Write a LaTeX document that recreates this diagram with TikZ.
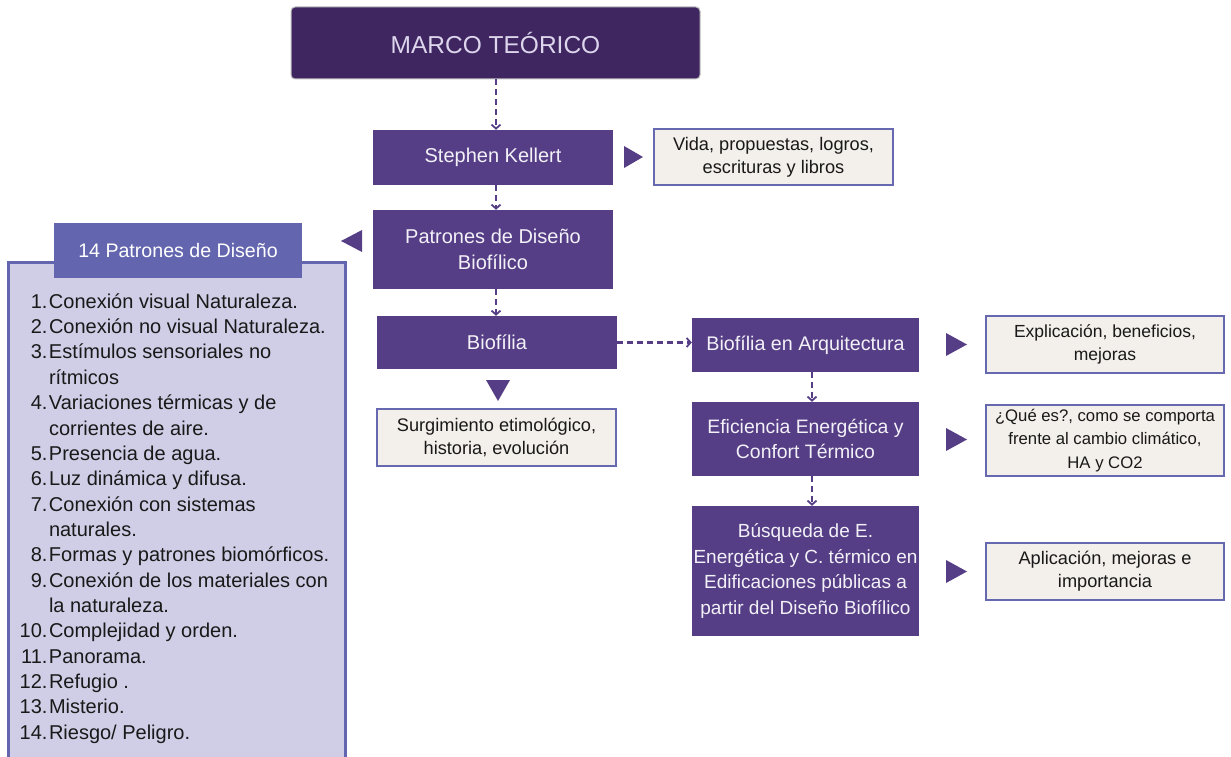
\documentclass[tikz,border=0pt]{standalone}
\usepackage{fontspec}
\setmainfont{Liberation Sans}
\usetikzlibrary{arrows.meta}
\definecolor{dpurple}{HTML}{3F2661}
\definecolor{mpurple}{HTML}{553E85}
\definecolor{hblue}{HTML}{6366AE}
\definecolor{lfill}{HTML}{D0CDE6}
\definecolor{cream}{HTML}{F3EFEA}
\definecolor{bborder}{HTML}{6668B0}
\definecolor{lavtext}{HTML}{DCD5EC}
\definecolor{ptext}{HTML}{F3F1F8}
\newcommand\setfs[2]{\fontsize{#1}{#2}\selectfont}
\begin{document}
\begin{tikzpicture}[x=1pt,y=-1pt,
  pbox/.style={fill=mpurple, text=ptext, align=center, inner sep=0pt, font=\setfs{20}{25.8}},
  lbox/.style={fill=cream, draw=bborder, line width=2pt, text=black!90, align=center, inner sep=0pt, font=\setfs{18.2}{23.2}},
  dashconn/.style={draw=mpurple, line width=2.4pt, dash pattern=on 6pt off 4pt, -{Straight Barb[length=4pt,width=9pt,line width=1.8pt]}},
  tri/.style={fill=mpurple}]
\useasboundingbox (0,0) rectangle (1231,757);
% top
\node[fill=dpurple, draw=black!25, line width=1pt, rounded corners=4pt, minimum width=409pt, minimum height=72pt, text=lavtext, font=\setfs{24.5}{28}, inner sep=0pt] (marco) at (495.5,43) {MARCO TEÓRICO};
\node[pbox, minimum width=240pt, minimum height=55pt] (kellert) at (493,157.5) {Stephen Kellert};
\node[lbox, minimum width=239pt, minimum height=56pt] (vida) at (773.5,157) {Vida, propuestas, logros,\\escrituras y libros};
\node[pbox, minimum width=240pt, minimum height=79pt] (patrones) at (493,249.5) {Patrones de Diseño\\Biofílico};
\node[pbox, minimum width=240pt, minimum height=53pt] (biofilia) at (497,342.5) {Biofília};
\node[lbox, minimum width=239pt, minimum height=57pt] (surg) at (496.5,437.5) {Surgimiento etimológico,\\historia, evolución};
% right column
\node[pbox, minimum width=227pt, minimum height=54pt, font=\setfs{19.7}{25.8}] (arq) at (805.5,345) {Biofília en Arquitectura};
\node[lbox, minimum width=238pt, minimum height=57pt, font=\setfs{17.5}{23.2}] (expl) at (1105,344.5) {Explicación, beneficios,\\mejoras};
\node[pbox, minimum width=227pt, minimum height=74pt, font=\setfs{19.4}{25.8}] (efic) at (805.5,439) {Eficiencia Energética y\\Confort Térmico};
\node[lbox, minimum width=238pt, minimum height=71pt, font=\setfs{16.7}{23.2}] (que) at (1105,440.5) {¿Qué es?, como se comporta\\frente al cambio climático,\\HA y CO2};
\node[pbox, minimum width=227pt, minimum height=130pt, font=\setfs{19}{25.8}] (busq) at (805.5,571) {Búsqueda de E.\\Energética y C. térmico en\\Edificaciones públicas a\\partir del Diseño Biofílico};
\node[lbox, minimum width=238pt, minimum height=57pt] (apl) at (1105,571.5) {Aplicación, mejoras e\\importancia};
% list box
\fill[lfill] (8,262) rectangle (345,760);
\draw[hblue, line width=3pt] (8,760) -- (8,262) -- (345,262) -- (345,760);
\node[fill=hblue, text=white, minimum width=248pt, minimum height=55pt, inner sep=0pt, font=\setfs{19.6}{25}] (header) at (178,250.5) {14 Patrones de Diseño};
\node[anchor=north west, inner sep=0pt, text=black!90, font=\setfs{20}{25.35}] (lista) at (19.5,290.3) {%
\begin{tabular}{@{}r@{\hspace{1.5pt}}l@{}}
1.&Conexión visual Naturaleza.\\
2.&Conexión no visual Naturaleza.\\
3.&Estímulos sensoriales no\\
&rítmicos\\
4.&Variaciones térmicas y de\\
&corrientes de aire.\\
5.&Presencia de agua.\\
6.&Luz dinámica y difusa.\\
7.&Conexión con sistemas\\
&naturales.\\
8.&Formas y patrones biomórficos.\\
9.&Conexión de los materiales con\\
&la naturaleza.\\
10.&Complejidad y orden.\\
11.&Panorama.\\
12.&Refugio .\\
13.&Misterio.\\
14.&Riesgo/ Peligro.
\end{tabular}};
% dashed connectors
\draw[dashconn] (marco.south -| 496,0) -- (kellert.north -| 496,0);
\draw[dashconn] (kellert.south -| 496,0) -- (patrones.north -| 496,0);
\draw[dashconn] (patrones.south -| 496,0) -- (biofilia.north -| 496,0);
\draw[dashconn] (biofilia.east) -- (biofilia.east -| arq.west);
\draw[dashconn] (arq.south -| 812,0) -- (efic.north -| 812,0);
\draw[dashconn] (efic.south -| 812,0) -- (busq.north -| 812,0);
% triangles
\fill[tri] (624,146) -- (643,157) -- (624,168) -- cycle;
\fill[tri] (362,230) -- (341,241) -- (362,252) -- cycle;
\fill[tri] (486,380) -- (510,380) -- (498,401) -- cycle;
\fill[tri] (946,333) -- (967,344.5) -- (946,356) -- cycle;
\fill[tri] (946,428) -- (967,439.5) -- (946,451) -- cycle;
\fill[tri] (946,560) -- (967,571.5) -- (946,583) -- cycle;
\end{tikzpicture}
\end{document}
